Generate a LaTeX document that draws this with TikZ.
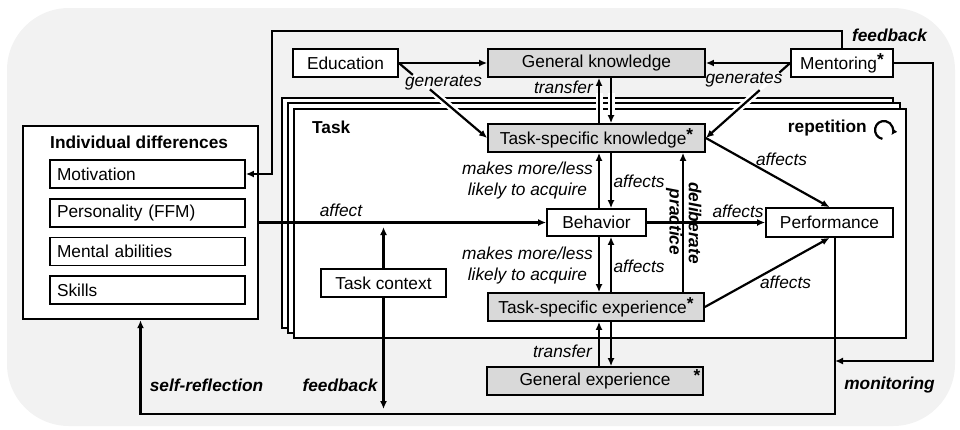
\documentclass[tikz,border=0pt]{standalone}
\usepackage{fontspec}
\setmainfont{Liberation Sans}
\usetikzlibrary{arrows.meta,calc}
\definecolor{bgc}{gray}{0.95}
\definecolor{boxg}{gray}{0.85}
\begin{document}
\begin{tikzpicture}[x=1pt,y=-1pt,
  font=\fontsize{17.3}{21}\selectfont,
  box/.style={draw,line width=1.7pt,fill=white,inner sep=0pt,minimum height=28pt},
  gbox/.style={box,fill=boxg},
  item/.style={box,text width=181pt,inner xsep=7pt,align=left,minimum height=28pt},
  arr/.style={line width=2.2pt,-{Latex[length=8pt,width=7pt]}},
  lab/.style={font=\fontsize{17.3}{21}\selectfont\itshape,inner sep=0pt},
  blab/.style={font=\fontsize{17.3}{21}\selectfont\bfseries\itshape,inner sep=0pt},
  btxt/.style={font=\fontsize{17.3}{21}\selectfont\bfseries,inner sep=0pt},
  halo/.style={white,line width=7pt},
  stackbox/.style={line width=2.4pt,fill=white},
]
\useasboundingbox (0,0) rectangle (960,429);
\fill[bgc,rounded corners=62pt] (7,8) rectangle (955,426);

% individual differences
\node[draw,line width=2.4pt,fill=white,minimum width=235pt,minimum height=193pt,inner sep=0pt] (indiv) at (140.5,222.5) {};
\node[btxt,anchor=west] (indivt) at (50,142) {Individual differences};
\node[item] (mot) at (147.5,174) {Motivation};
\node[item] (pers) at (147.5,213) {Personality (FFM)};
\node[item] (ment) at (147.5,251.5) {Mental abilities};
\node[item] (skl) at (147.5,290) {Skills};

% task stack
\draw[stackbox] (282,98) rectangle (893,328);
\draw[stackbox] (288,103) rectangle (900,333);
\draw[stackbox] (294,109) rectangle (906,338);
\node[btxt,anchor=west] (tasklbl) at (312,127) {Task};
\node[btxt,anchor=east] (replbl) at (867,128) {repetition};
\draw[line width=2.2pt,-{Latex[length=6pt,width=6pt]}] (884,130) ++(100:9) arc[start angle=100,end angle=395,radius=9];

% nodes
\node[box,minimum width=105pt] (edu) at (345.5,63) {Education};
\node[gbox,minimum width=217pt] (gk) at (596.5,63) {General knowledge};
\node[box,minimum width=102pt] (men) at (842,63) {Mentoring\raisebox{4pt}{\textbf{*}}};
\node[gbox,minimum width=217pt] (tsk) at (596.5,138) {Task-specific knowledge\raisebox{4pt}{\textbf{*}}};
\node[box,minimum width=99pt,minimum height=27pt] (beh) at (596.5,222.5) {Behavior};
\node[box,minimum width=127pt,minimum height=29pt] (perf) at (829.5,222.5) {Performance};
\node[gbox,minimum width=216pt] (tse) at (596,307) {Task-specific experience\raisebox{4pt}{\textbf{*}}};
\node[gbox,minimum width=216pt] (ge) at (595,381) {General experience};
\node[btxt] (geast) at (697,376) {*};
\node[box,minimum width=125pt] (tc) at (383.5,283) {Task context};

% coordinates
\coordinate (fb1) at (272,31);
\coordinate (mr) at (933,361);
\coordinate (monj) at (835,361);
\coordinate (tcup) at (383.5,227);
\coordinate (tcdn) at (383.5,409);
\coordinate (dpx) at (683,0);

% feedback from mentoring
\draw[arr] (men.north) |- (fb1) |- (mot.east);
\draw[arr] (men.east) -| (mr) -- (monj);
% monitoring / self-reflection
\draw[arr] ([xshift=5.5pt]perf.south) -- ++(0,176) -| (indiv.south);

% education / mentoring
\draw[arr] (edu.east) -- (gk.west);
\draw[arr] (men.west) -- (gk.east);
\draw[halo] ($(edu.east)!0.40!(tsk.west)$) -- ($(edu.east)!0.68!(tsk.west)$);
\draw[arr] (edu.east) -- (tsk.west);
\draw[white,line width=3.5pt] ($(edu.east)!0.16!(tsk.west)$) -- ($(edu.east)!0.35!(tsk.west)$);
\node[lab] (gen1) at (443.5,83) {generates};
\draw[halo] ($(men.west)!0.40!(tsk.east)$) -- ($(men.west)!0.66!(tsk.east)$);
\draw[arr] (men.west) -- (tsk.east);
\draw[white,line width=3.5pt] ($(men.west)!0.13!(tsk.east)$) -- ($(men.west)!0.36!(tsk.east)$);
\node[lab] (gen2) at (744,80) {generates};

% transfer (knowledge)
\draw[halo] (599,93) -- (599,114);
\draw[halo] (611,93) -- (611,114);
\draw[arr] ([xshift=2.5pt]tsk.north) -- ([xshift=2.5pt]tsk.north |- gk.south);
\draw[arr] ([xshift=14.5pt]gk.south) -- ([xshift=14.5pt]gk.south |- tsk.north);
\node[lab,anchor=east] (tr1) at (593,87) {transfer};

% behavior <-> task-specific knowledge
\draw[arr] ([xshift=2.5pt]beh.north) -- ([xshift=2.5pt]beh.north |- tsk.south);
\draw[arr] ([xshift=14.5pt]tsk.south) -- ([xshift=14.5pt]tsk.south |- beh.north);
\node[lab,align=center] (mm1) at (527.5,180.5) {makes more/less\\likely to acquire};
\node[lab] (af1) at (639,181) {affects};

% behavior <-> task-specific experience
\draw[arr] ([xshift=2.5pt]beh.south) -- ([xshift=2.5pt]beh.south |- tse.north);
\draw[arr] ([xshift=14.5pt]beh.south |- tse.north) -- ([xshift=14.5pt]beh.south);
\node[lab,align=center] (mm2) at (527.5,265.5) {makes more/less\\likely to acquire};
\node[lab] (af2) at (639,266) {affects};

% transfer (experience)
\draw[arr] ([xshift=2.5pt]beh.south |- ge.north) -- ([xshift=2.5pt]beh.south |- tse.south);
\draw[arr] ([xshift=14.5pt]beh.south |- tse.south) -- ([xshift=14.5pt]beh.south |- ge.north);
\node[lab,anchor=east] (tr2) at (592,351) {transfer};

% deliberate practice
\draw[arr] (tse.north -| dpx) -- (tsk.south -| dpx);
\node[blab,rotate=-90] (delib) at (695,223) {deliberate};
\node[blab,rotate=-90] (pract) at (674,222) {practice};

% performance
\draw[arr] (beh.east) -- (perf.west);
\node[lab] (af3) at (738,211) {affects};
\draw[arr] (tsk.east) -- (perf.north);
\node[lab] (af4) at (781.5,159) {affects};
\draw[arr] (tse.east) -- (perf.south);
\node[lab] (af5) at (785.5,282) {affects};

% individual differences -> behavior
\draw[arr] (indiv.east) -- (beh.west);
\node[lab] (aff) at (341,210) {affect};

% task context
\draw[arr] (tc.north) -- (tcup);
\draw[arr] (tc.south) -- (tcdn);

% bold labels
\node[blab] (fbtop) at (889.5,35) {feedback};
\node[blab] (fbbot) at (340,385) {feedback};
\node[blab] (selfr) at (206.5,385) {self-reflection};
\node[blab] (monit) at (889.5,385) {monitoring};
\end{tikzpicture}
\end{document}
